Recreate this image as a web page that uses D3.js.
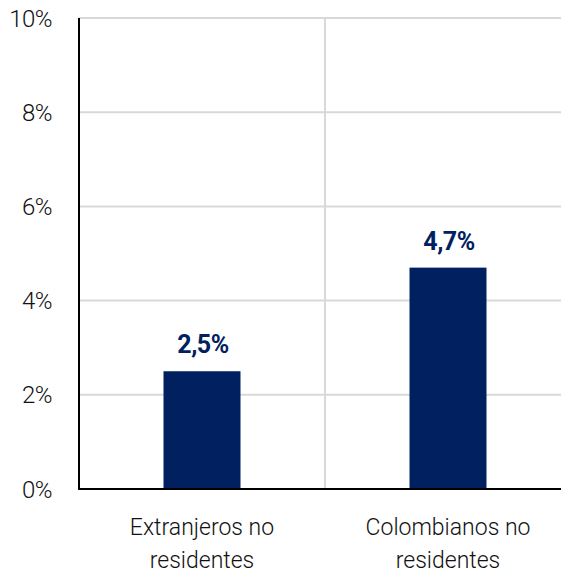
<!DOCTYPE html>
<html><head><meta charset="utf-8">
<script src="https://cdn.jsdelivr.net/npm/d3@7"></script>
<style>body{margin:0;background:#fff}svg{display:block}</style>
</head><body>
<svg id="chart" width="561" height="575"></svg>
<script>
const categories = [["Extranjeros no","residentes"],["Colombianos no","residentes"]];
const values = [2.5, 4.7];
const valueLabels = ["2,5%", "4,7%"];
const yTicks = [0, 2, 4, 6, 8, 10];
const tickLabels = ["0%", "2%", "4%", "6%", "8%", "10%"];

const svg = d3.select("#chart");
const m = {left: 79, right: -10, top: 18, bottom: 86};
const W = 561 - m.left - m.right, H = 575 - m.top - m.bottom;
const g = svg.append("g").attr("transform", `translate(${m.left},${m.top})`);

const x = d3.scaleBand().domain(d3.range(categories.length)).range([0, W]).padding(0);
const y = d3.scaleLinear().domain([0, 10]).range([H, 0]);
const navy = "#002060";

// horizontal gridlines
g.selectAll(".hg").data(yTicks.filter(d => d > 0)).enter().append("line")
  .attr("x1", 0).attr("x2", W).attr("y1", d => y(d)).attr("y2", d => y(d))
  .attr("stroke", "#d9d9d9").attr("stroke-width", 2);
// vertical divider gridlines
g.selectAll(".vg").data(d3.range(1, categories.length)).enter().append("line")
  .attr("x1", d => x(d)).attr("x2", d => x(d)).attr("y1", y(10)).attr("y2", y(0))
  .attr("stroke", "#d9d9d9").attr("stroke-width", 2);

// bars
const bw = x.bandwidth() * 0.313;
g.selectAll(".bar").data(values).enter().append("rect")
  .attr("x", (d, i) => x(i) + x.bandwidth() / 2 - bw / 2)
  .attr("width", bw)
  .attr("y", d => y(d)).attr("height", d => y(0) - y(d))
  .attr("fill", navy);

// value labels
g.selectAll(".vl").data(values).enter().append("text")
  .attr("x", (d, i) => x(i) + x.bandwidth() / 2 + 1)
  .attr("y", d => y(d) - 18)
  .attr("text-anchor", "middle")
  .attr("font-family", "Roboto, sans-serif").attr("font-weight", 700)
  .attr("font-size", 25).attr("fill", navy).attr("letter-spacing", -0.5)
  .text((d, i) => valueLabels[i]);

// axes lines
g.append("line").attr("x1", 0).attr("x2", 0).attr("y1", y(10)).attr("y2", y(0) + 1)
  .attr("stroke", "#000").attr("stroke-width", 2);
g.append("line").attr("x1", -1).attr("x2", W).attr("y1", y(0)).attr("y2", y(0))
  .attr("stroke", "#000").attr("stroke-width", 2);

// y tick labels
g.selectAll(".yt").data(yTicks).enter().append("text")
  .attr("x", -27).attr("y", d => y(d)).attr("dy", "0.36em")
  .attr("text-anchor", "end")
  .attr("font-family", "Roboto, sans-serif").attr("font-weight", 300)
  .attr("font-size", 24).attr("fill", "#111").attr("letter-spacing", -0.5)
  .text((d, i) => tickLabels[i]);

// category labels
categories.forEach((lines, i) => {
  const t = g.append("text")
    .attr("x", x(i) + x.bandwidth() / 2)
    .attr("y", y(0) + 46)
    .attr("text-anchor", "middle")
    .attr("font-family", "Roboto, sans-serif").attr("font-weight", 300)
    .attr("font-size", 23).attr("fill", "#111");
  lines.forEach((ln, j) => t.append("tspan").attr("x", x(i) + x.bandwidth() / 2)
    .attr("dy", j === 0 ? 0 : 33).text(ln));
});
</script>
</body></html>
